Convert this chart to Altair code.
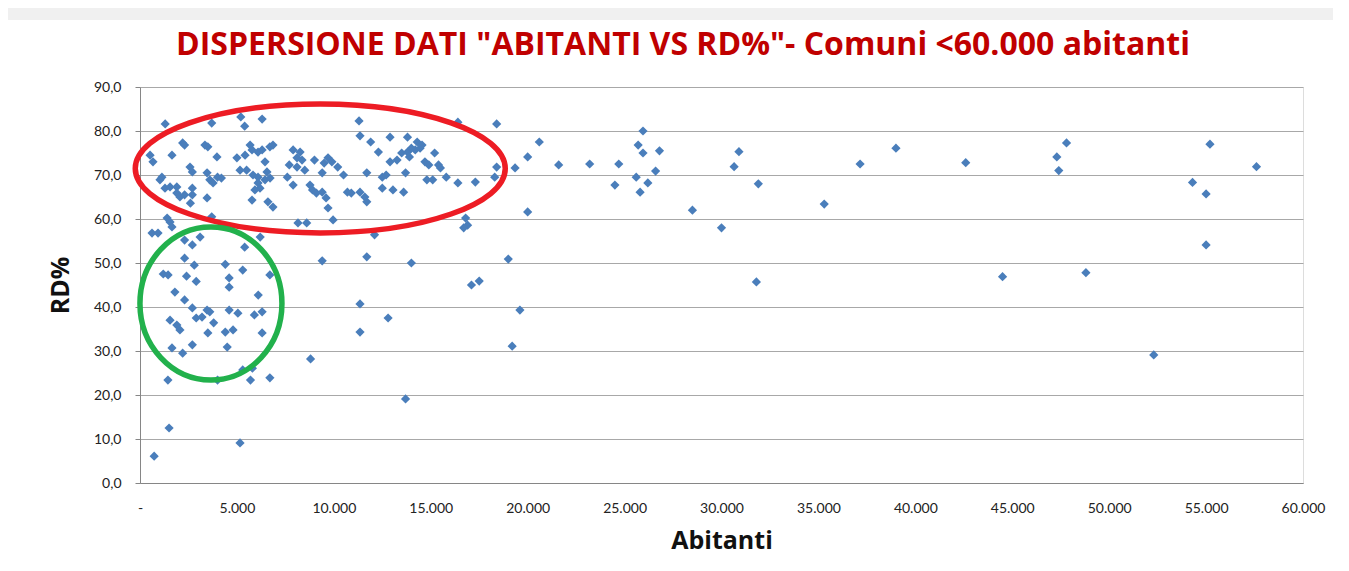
import altair as alt
import pandas as pd

# ---- data (abitanti, RD%) ----
abitanti = [
    520, 670, 1650, 2200, 2300, 3350, 3500, 3970, 2580, 2700,
    1130, 1030, 1290, 1550, 1900, 1900, 2060, 2700, 2700, 3460,
    3600, 3770, 4000, 4200, 3460, 2300, 2600, 1400, 1550, 1650,
    620, 930, 3700, 1300, 3700, 5200, 5400, 6300, 5000, 5420,
    5680, 5780, 6090, 6300, 6700, 6860, 5160, 5500, 5830, 6090,
    6090, 6190, 5930, 6450, 6710, 5780, 6860, 6600, 6450, 6550,
    7600, 7700, 7900, 8100, 8100, 8260, 8360, 8500, 9000, 9500,
    9400, 9700, 9900, 10200, 7900, 8770, 8900, 9100, 9400, 9600,
    9700, 9960, 8150, 8600, 10500, 10700, 10900, 11350, 11600, 11700,
    11700, 11300, 11350, 11900, 12300, 12900, 12900, 12500, 12700, 12500,
    13050, 13600, 13700, 13260, 13500, 13800, 13900, 13800, 14200, 14300,
    14450, 14550, 14000, 14700, 14900, 14800, 15200, 15400, 15500, 15100,
    15800, 16400, 17300, 16400, 18400, 18400, 18300, 19350, 20000, 20600,
    12100, 16800, 16900, 16700, 20000,
    2300, 2700, 3100, 5400, 6200, 2300, 2800, 1200, 1450, 2400,
    2900, 4400, 5300, 4600, 4600, 6700, 1800, 2300, 2700, 3460,
    3600, 2900, 3200, 3800, 4600, 5050, 6100, 5900, 6300, 1550,
    1900, 2060, 3500, 4400, 4800, 6300, 1650, 2200, 2700, 4500,
    5300, 5800, 1440, 4000, 5700, 6700, 1500, 730, 5160, 8800,
    9400, 11700, 11350, 12800, 11350, 13700, 14000, 19000, 17100, 17500,
    19600, 19200,
    21600, 23200, 24700, 24500, 25600, 25800, 26200, 25700, 25950, 25950,
    26800, 26600, 28500, 30000, 30650, 30900, 31900, 31800, 35300, 37150,
    39000, 42600, 44500, 47300, 47800, 47400, 48800, 52300, 54300, 55000,
    55200, 55000, 57600,
]
rd_pct = [
    74.5, 73.0, 74.5, 77.3, 76.8, 76.8, 76.4, 74.1, 71.8, 70.7,
    69.5, 68.9, 67.0, 67.3, 67.3, 65.9, 65.0, 67.0, 65.5, 70.5,
    68.9, 68.2, 69.5, 69.3, 64.8, 65.5, 63.6, 60.2, 59.3, 58.2,
    56.8, 56.8, 60.5, 81.6, 81.8, 83.2, 81.1, 82.7, 73.9, 74.5,
    76.8, 75.7, 75.2, 75.7, 76.4, 76.8, 71.1, 71.1, 70.0, 69.5,
    68.2, 67.0, 66.6, 68.9, 69.3, 64.3, 62.7, 63.9, 73.0, 70.7,
    69.5, 72.3, 75.7, 71.8, 73.9, 75.2, 73.4, 71.1, 73.4, 72.7,
    70.5, 73.9, 73.0, 71.8, 67.7, 67.7, 66.6, 65.9, 66.1, 64.8,
    62.5, 59.8, 59.1, 59.1, 70.0, 66.1, 65.9, 66.1, 65.0, 63.9,
    70.5, 82.3, 78.9, 77.5, 75.2, 78.6, 73.0, 69.5, 70.0, 67.0,
    66.6, 66.1, 70.5, 73.4, 75.0, 75.2, 74.1, 78.6, 75.7, 77.5,
    76.1, 76.8, 76.1, 73.0, 72.3, 68.9, 75.0, 72.3, 71.6, 68.9,
    69.5, 68.2, 68.4, 82.0, 81.6, 71.8, 69.5, 71.6, 74.1, 77.5,
    56.4, 60.2, 58.6, 58.0, 61.6,
    55.2, 54.1, 55.9, 53.6, 55.9, 51.1, 49.5, 47.5, 47.3, 47.0,
    45.8, 49.7, 48.4, 46.6, 44.5, 47.3, 43.4, 41.6, 39.8, 39.3,
    38.9, 37.5, 37.7, 36.4, 39.3, 38.6, 42.7, 38.2, 38.9, 37.0,
    35.9, 34.8, 34.1, 34.3, 34.8, 34.1, 30.7, 29.5, 31.4, 30.9,
    25.7, 26.1, 23.4, 23.4, 23.4, 23.9, 12.5, 6.1, 9.1, 28.2,
    50.5, 51.4, 40.7, 37.5, 34.3, 19.1, 50.0, 50.9, 45.0, 45.9,
    39.3, 31.1,
    72.3, 72.5, 72.5, 67.7, 69.5, 66.1, 68.2, 76.8, 75.0, 80.0,
    75.5, 70.9, 62.0, 58.0, 71.9, 75.3, 68.0, 45.7, 63.4, 72.5,
    76.1, 72.8, 46.9, 74.1, 77.3, 71.0, 47.8, 29.1, 68.3, 65.7,
    77.0, 54.1, 71.9,
]

title_text = ['DISPERSIONE DATI "ABITANTI VS RD%"- Comuni <60.000 abitanti']
x_title = "Abitanti"
y_title = "RD%"
x_ticks = [0, 5000, 10000, 15000, 20000, 25000, 30000, 35000, 40000, 45000, 50000, 55000, 60000]
y_ticks = [0, 10, 20, 30, 40, 50, 60, 70, 80, 90]

# hand-drawn highlight ellipses: centre in data units
ell_names = ["red", "green"]
ell_x = [9300, 3660]
ell_y = [71.5, 40.8]


def ellipse_path(a, b):
    k = 0.5523
    return (
        f"M{-a},0 C{-a},{-k*b} {-k*a},{-b} 0,{-b} "
        f"C{k*a},{-b} {a},{-k*b} {a},0 "
        f"C{a},{k*b} {k*a},{b} 0,{b} "
        f"C{-k*a},{b} {-a},{k*b} {-a},0 Z"
    )


df = pd.DataFrame({"abitanti": abitanti, "rd": rd_pct})
ell = pd.DataFrame({"name": ell_names, "x": ell_x, "y": ell_y})
one = pd.DataFrame({"k": [0]})
ttl = pd.DataFrame({"t": title_text})

FONT = "Lato"
TFONT = "Open Sans"

xscale = alt.Scale(domain=[0, 60000], nice=False, zero=True)
yscale = alt.Scale(domain=[0, 90], nice=False)

x_axis = alt.Axis(
    values=x_ticks,
    labelExpr="datum.value == 0 ? '-' : replace(format(datum.value, ','), ',', '.')",
    grid=False,
    ticks=False,
    tickSize=0,
    domainColor="#868686",
    labelColor="#222222",
    labelFontSize=14,
    labelFont=FONT,
    labelPadding=18,
    labelFlush=False,
    title=x_title,
    titleFont=TFONT,
    titleFontSize=25,
    titleFontWeight="bold",
    titleColor="#111111",
    titleY=65,
    titleBaseline="alphabetic",
)
y_axis = alt.Axis(
    values=y_ticks,
    labelExpr="replace(format(datum.value, '.1f'), '.', ',')",
    grid=True,
    gridColor="#a8a8a8",
    gridWidth=1,
    ticks=True,
    tickSize=5,
    tickColor="#868686",
    domainColor="#868686",
    labelColor="#222222",
    labelFontSize=14,
    labelFont=FONT,
    labelPadding=14,
    title=y_title,
    titleFont=TFONT,
    titleFontSize=25,
    titleFontWeight="bold",
    titleColor="#111111",
    titleX=-80,
    titleY=198,
    titleBaseline="middle",
    titleAngle=270,
)

strip = alt.Chart(one).mark_rect(color="#f0f0f0").encode(
    x=alt.value(-140), x2=alt.value(1220), y=alt.value(-90), y2=alt.value(-67)
)

title = alt.Chart(ttl).mark_text(
    font=TFONT, fontSize=32, fontWeight="bold", color="#C00000",
    align="center", baseline="alphabetic",
).encode(text="t:N", x=alt.value(543), y=alt.value(-32))

points = alt.Chart(df).mark_point(
    shape="diamond", filled=True, size=85, color="#4A7EBB", opacity=1
).encode(
    x=alt.X("abitanti:Q", scale=xscale, axis=x_axis),
    y=alt.Y("rd:Q", scale=yscale, axis=y_axis),
)

red = alt.Chart(ell).transform_filter("datum.name == 'red'").mark_point(
    shape=ellipse_path(1, 0.3486), size=370 * 370, filled=False,
    stroke="#ED1C24", strokeWidth=5.5, opacity=1,
).encode(x=alt.X("x:Q", scale=xscale), y=alt.Y("y:Q", scale=yscale))

green = alt.Chart(ell).transform_filter("datum.name == 'green'").mark_point(
    shape=ellipse_path(0.928, 1), size=153 * 153, filled=False,
    stroke="#22B14C", strokeWidth=5.5, opacity=1,
).encode(x=alt.X("x:Q", scale=xscale), y=alt.Y("y:Q", scale=yscale))

chart = alt.layer(strip, title, points, red, green).properties(
    width=1163,
    height=396,
    autosize=alt.AutoSizeParams(type="none"),
    padding={"left": 132, "top": 79, "right": 30, "bottom": 90},
).configure_view(stroke=None).configure(background="white")

chart.save("out.html", embed_options={"renderer": "svg", "actions": False})
